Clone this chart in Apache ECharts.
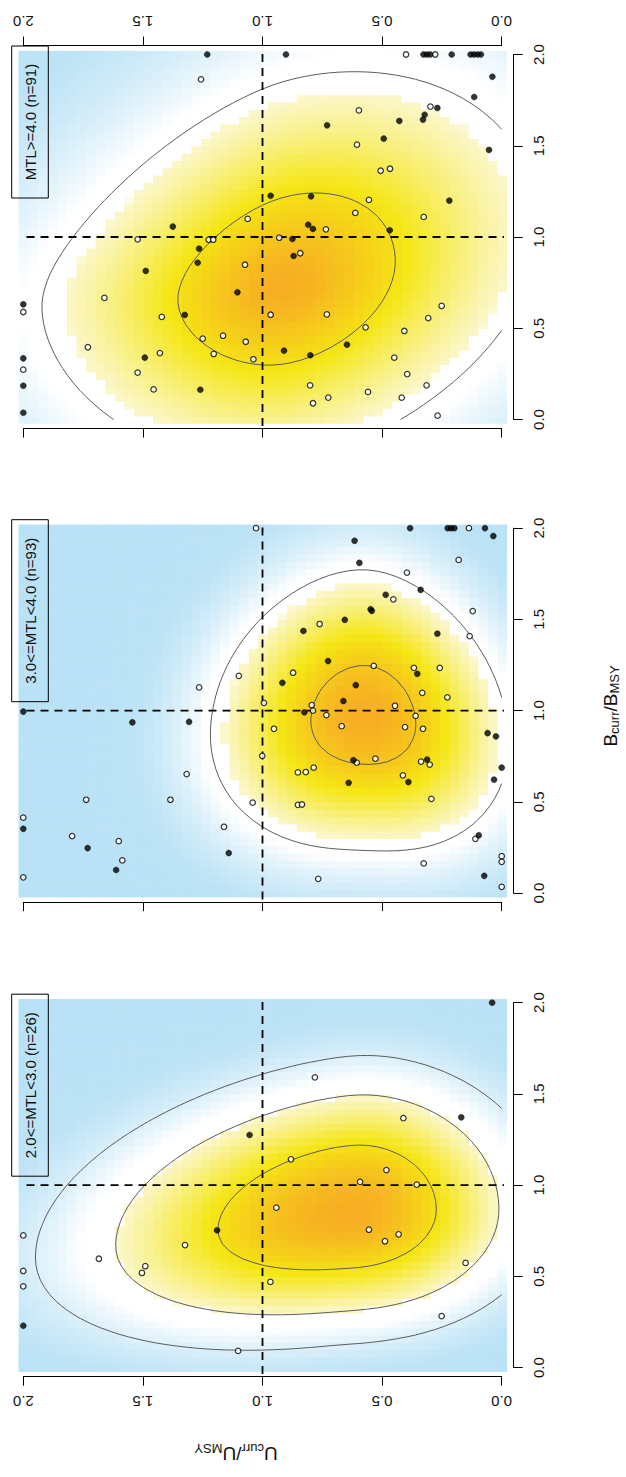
<!DOCTYPE html>
<html>
<head>
<meta charset="utf-8">
<title>U/Umsy vs B/Bmsy by MTL class</title>
<script src="https://cdn.jsdelivr.net/npm/echarts@6.0.0/dist/echarts.min.js"></script>
<style>
  html, body { margin: 0; padding: 0; background: #ffffff; }
  #chart { width: 626px; height: 1477px; }
</style>
</head>
<body>
<div id="chart"></div>
<script>
// ---------------------------------------------------------------
// Stock status points: U = Ucurr/Umsy, B = Bcurr/Bmsy (values above
// 2 are shown on the 2.0 edge). solid = 1 for filled markers.
// ---------------------------------------------------------------

// MTL >= 4.0
const mtlHighU = [1.231,1.257,1.062,1.375,1.522,1.225,1.206,1.265,1.271,1.073,1.488,1.105,1.661,2.0,2.0,1.325,1.421,1.165,1.250,1.070,1.730,1.204,1.429,1.492,2.0,1.038,2.0,1.522,2.0,1.455,1.260,2.0,
  0.902,0.400,0.327,0.313,0.299,0.278,0.209,0.130,0.116,0.101,0.087,
  0.039,0.115,0.298,0.269,0.322,0.329,0.597,0.428,0.730,0.493,0.605,0.053,0.506,0.467,0.966,0.797,0.555,0.219,0.612,0.326,0.809,0.789,0.735,0.468,0.930,0.875,0.842,0.870,0.251,0.966,0.731,0.307,0.569,0.407,0.647,0.910,0.800,0.449,0.395,0.801,0.314,0.559,0.725,0.418,0.789,0.268];
const mtlHighB = [2.0,1.864,1.099,1.057,0.987,0.985,0.985,0.936,0.859,0.848,0.814,0.697,0.666,0.631,0.589,0.573,0.562,0.459,0.443,0.426,0.396,0.359,0.364,0.339,0.335,0.330,0.273,0.257,0.185,0.165,0.163,0.037,
  2.0,2.0,2.0,2.0,2.0,2.0,2.0,2.0,2.0,2.0,2.0,
  1.878,1.767,1.714,1.707,1.670,1.643,1.694,1.636,1.612,1.539,1.506,1.477,1.363,1.374,1.226,1.223,1.203,1.199,1.132,1.110,1.067,1.044,1.042,1.037,0.996,0.989,0.911,0.896,0.622,0.574,0.576,0.556,0.505,0.485,0.410,0.377,0.352,0.339,0.249,0.187,0.187,0.151,0.120,0.120,0.089,0.021];
const mtlHighSolid = [1,0,0,1,0,0,0,1,1,0,1,1,0,1,0,1,0,0,0,0,0,0,0,1,1,0,0,0,1,0,1,1,
  1,0,1,1,1,0,1,1,1,1,1,
  1,1,0,1,1,1,0,1,1,1,0,1,0,0,1,1,0,1,0,0,1,1,0,1,0,1,0,1,0,0,0,0,0,0,1,1,1,0,0,0,0,0,0,0,0,0];

// 3.0 <= MTL < 4.0
const mtlMidU = [1.027,1.099,1.265,2.0,1.544,1.307,0.994,1.001,1.317,1.737,1.385,1.041,2.0,2.0,1.796,1.161,1.601,1.731,1.141,1.586,1.612,2.0,
  0.383,0.226,0.212,0.198,0.137,0.070,0.035,0.615,0.595,0.180,0.396,0.485,0.453,0.339,0.548,0.543,0.656,0.121,0.761,0.829,0.269,0.134,
  0.726,0.535,0.872,0.367,0.353,0.259,0.917,0.610,0.332,0.227,0.662,0.794,0.789,0.825,0.733,0.446,0.360,0.952,0.669,0.404,0.329,
  0.059,0.024,0.620,0.606,0.528,0.337,0.312,0.301,0.852,0.819,0.786,0.0,0.032,0.413,0.390,0.640,0.294,0.852,0.835,
  0.096,0.110,0.0,0.0,0.326,0.073,0.767,0.0];
const mtlMidB = [2.0,1.191,1.128,0.995,0.936,0.939,1.043,0.753,0.653,0.512,0.512,0.496,0.414,0.353,0.313,0.364,0.285,0.247,0.220,0.180,0.127,0.087,
  2.0,2.0,2.0,2.0,2.0,2.0,1.957,1.931,1.810,1.826,1.757,1.635,1.610,1.662,1.556,1.547,1.498,1.546,1.475,1.437,1.422,1.409,
  1.272,1.246,1.208,1.235,1.202,1.235,1.153,1.140,1.098,1.073,1.053,1.031,1.000,0.991,0.976,1.027,0.972,0.901,0.915,0.910,0.901,
  0.877,0.859,0.729,0.715,0.737,0.721,0.732,0.705,0.662,0.664,0.688,0.688,0.622,0.646,0.609,0.605,0.517,0.484,0.486,
  0.317,0.298,0.203,0.172,0.163,0.095,0.079,0.035];
const mtlMidSolid = [0,0,0,1,1,1,0,0,0,0,0,0,0,1,0,0,0,1,1,0,1,0,
  1,1,1,1,0,1,1,1,1,0,0,1,0,1,1,1,1,0,0,1,1,0,
  1,0,0,0,1,0,1,1,0,0,1,0,0,1,0,0,0,0,0,0,0,
  1,1,1,0,0,0,1,0,0,0,0,1,1,0,1,1,0,0,0,
  1,0,0,0,0,1,0,0];

// 2.0 <= MTL < 3.0
const mtlLowU = [0.781,0.411,0.169,1.054,0.881,0.482,0.592,0.355,0.942,1.190,0.555,0.431,0.488,1.324,2.0,1.684,1.490,1.504,2.0,2.0,0.967,0.151,0.251,2.0,1.102,0.040];
const mtlLowB = [1.591,1.367,1.372,1.275,1.142,1.083,1.018,1.003,0.877,0.753,0.756,0.731,0.693,0.672,0.725,0.597,0.556,0.519,0.530,0.446,0.470,0.574,0.283,0.230,0.092,2.0];
const mtlLowSolid = [0,0,1,1,0,0,0,0,0,1,0,0,0,0,0,0,0,0,0,0,0,0,0,1,0,1];

const panelTitles = ['MTL>=4.0 (n=91)', '3.0<=MTL<4.0 (n=93)', '2.0<=MTL<3.0 (n=26)'];
const refU = 1.0;  // Ucurr = Umsy
const refB = 1.0;  // Bcurr = Bmsy

// Joint status density per MTL class (top, middle, bottom panel):
// modal U and B, spread below / above the mode, slope of the B centre
// against U on either side of the modal U, fall-off towards high U with
// high B, and tail shape (1 = normal).
const densityModeU   = [0.93, 0.57, 0.62];
const densityModeB   = [0.72, 1.00, 0.87];
const densitySpreadU = [[0.58, 0.544], [0.37, 0.40], [0.41, 0.67]];
const densitySpreadB = [[0.528, 0.612], [0.45, 0.50], [0.365, 0.43]];
const densityTilt    = [[-0.30, 0.0], [0.30, -0.20], [0.0, -0.20]];
const densityCross   = [0.5, 0.0, 0.0];
const densityShape   = [0.76, 1.0, 1.0];
// contour levels, as a share of the panel's peak density
const contourLevels  = [[0.28, 0.70], [0.27, 0.85], [0.14, 1 / 3, 0.70]];

// ---------------------------------------------------------------
// Density on a 51 x 51 grid over [0, 2] x [0, 2]
// ---------------------------------------------------------------
const GRID_N = 51, GRID_LO = 0, GRID_HI = 2;
const gridVals = [];
for (let k = 0; k < GRID_N; k++) gridVals.push(GRID_LO + (GRID_HI - GRID_LO) * k / (GRID_N - 1));
const CELL = (GRID_HI - GRID_LO) / (GRID_N - 1);

// smooth positive part, so the surface has no creases at the mode
const softPos = (x, eps) => 0.5 * (x + Math.sqrt(x * x + eps * eps));

function densityGrid(k) {
  const mu = densityModeU[k], mb = densityModeB[k];
  const su = densitySpreadU[k], sb = densitySpreadB[k], tilt = densityTilt[k];
  const cross = densityCross[k], shape = densityShape[k];
  const z = [];
  let zmax = 0;
  for (let i = 0; i < GRID_N; i++) {
    const row = [];
    for (let j = 0; j < GRID_N; j++) {
      const du = gridVals[i] - mu;
      const a = du / (du < 0 ? su[0] : su[1]);
      const up = softPos(du, 0.15), dn = du - up;
      const centreB = mb + tilt[0] * dn + tilt[1] * up;
      const db = gridVals[j] - centreB;
      const b = db / (db < 0 ? sb[0] : sb[1]);
      const q = a * a + b * b + 2 * cross * softPos(a, 0.3) * softPos(b, 0.3);
      const v = Math.exp(-0.5 * Math.pow(q, shape));
      if (v > zmax) zmax = v;
      row.push(v);
    }
    z.push(row);
  }
  return z.map(row => row.map(v => v / zmax));
}

// ---------------------------------------------------------------
// Contour tracing (marching squares) on the density grid
// ---------------------------------------------------------------
function contourLines(z, level) {
  const pts = new Map(), adj = new Map();
  const edgePt = (key, i0, j0, i1, j1) => {
    if (!pts.has(key)) {
      const z0 = z[i0][j0], z1 = z[i1][j1], t = (level - z0) / (z1 - z0);
      pts.set(key, [gridVals[i0] + t * (gridVals[i1] - gridVals[i0]), gridVals[j0] + t * (gridVals[j1] - gridVals[j0])]);
    }
    return key;
  };
  const link = (a, b) => {
    if (!adj.has(a)) adj.set(a, []);
    if (!adj.has(b)) adj.set(b, []);
    adj.get(a).push(b); adj.get(b).push(a);
  };
  for (let i = 0; i < GRID_N - 1; i++) {
    for (let j = 0; j < GRID_N - 1; j++) {
      const a = z[i][j] >= level, b = z[i + 1][j] >= level, c = z[i + 1][j + 1] >= level, d = z[i][j + 1] >= level;
      const E = {};
      if (a !== b) E.bottom = edgePt('h' + i + '_' + j, i, j, i + 1, j);
      if (b !== c) E.right = edgePt('v' + (i + 1) + '_' + j, i + 1, j, i + 1, j + 1);
      if (d !== c) E.top = edgePt('h' + i + '_' + (j + 1), i, j + 1, i + 1, j + 1);
      if (a !== d) E.left = edgePt('v' + i + '_' + j, i, j, i, j + 1);
      const ks = Object.keys(E);
      if (ks.length === 2) link(E[ks[0]], E[ks[1]]);
      else if (ks.length === 4) {
        const m = (z[i][j] + z[i + 1][j] + z[i + 1][j + 1] + z[i][j + 1]) / 4 >= level;
        if (m === a) { link(E.bottom, E.right); link(E.top, E.left); }
        else { link(E.bottom, E.left); link(E.right, E.top); }
      }
    }
  }
  const seen = new Set(), lines = [];
  const walk = (start) => {
    const line = [pts.get(start)];
    seen.add(start);
    let cur = start;
    for (;;) {
      const nxt = adj.get(cur).filter(k => !seen.has(k));
      if (!nxt.length) break;
      cur = nxt[0]; seen.add(cur); line.push(pts.get(cur));
    }
    if (line.length > 2 && adj.get(cur).indexOf(start) >= 0) line.push(pts.get(start));
    return line;
  };
  for (const [k, v] of adj) if (v.length === 1 && !seen.has(k)) lines.push(walk(k));
  for (const k of adj.keys()) if (!seen.has(k)) lines.push(walk(k));
  return lines;
}

// ---------------------------------------------------------------
// Colour ramp for density relative to the panel maximum
// ---------------------------------------------------------------
const rampStops = [
  [0.0, [186, 226, 246]],
  [0.05, [188, 227, 246]],
  [0.24, [255, 255, 255]],
  [1 / 3, [255, 255, 255]],
  [1 / 3 + 0.001, [251, 247, 203]],
  [2 / 3, [245, 230, 20]],
  [1.0, [247, 174, 34]]
];
function heatColor(r) {
  r = Math.max(0, Math.min(1, r));
  for (let k = 1; k < rampStops.length; k++) {
    if (r <= rampStops[k][0]) {
      const [r0, c0] = rampStops[k - 1], [r1, c1] = rampStops[k];
      const t = (r - r0) / (r1 - r0);
      const c = c0.map((v, q) => Math.round(v + t * (c1[q] - v)));
      return 'rgb(' + c.join(',') + ')';
    }
  }
  return 'rgb(' + rampStops[rampStops.length - 1][1].join(',') + ')';
}

// ---------------------------------------------------------------
// Layout (portrait: U runs right-to-left, B runs upward)
// ---------------------------------------------------------------
const FONT = '"Liberation Sans", Arial, Helvetica, sans-serif';
const GRID_LEFT = 23.3, GRID_W = 478.4, GRID_H = 365;
const panels = [
  { title: panelTitles[0], U: mtlHighU, B: mtlHighB, S: mtlHighSolid, top: 54.5,  boxH: 152 },
  { title: panelTitles[1], U: mtlMidU,  B: mtlMidB,  S: mtlMidSolid,  top: 528.2, boxH: 182 },
  { title: panelTitles[2], U: mtlLowU,  B: mtlLowB,  S: mtlLowSolid,  top: 1002.7, boxH: 182 }
];

const fmt = v => v.toFixed(1);
function uAxis(gridIndex, position, showLabel) {
  return {
    type: 'value', gridIndex, position, offset: 9, min: 0, max: 2, interval: 0.5, inverse: true,
    axisLine: { show: true, onZero: false, lineStyle: { color: '#000', width: 1 } },
    axisTick: { show: true, inside: false, length: 9, lineStyle: { color: '#000', width: 1 } },
    axisLabel: { show: showLabel, rotate: 180, fontSize: 15, fontFamily: FONT, color: '#111', margin: 17, formatter: fmt },
    splitLine: { show: false }
  };
}
function bAxis(gridIndex) {
  return {
    type: 'value', gridIndex, position: 'right', offset: 12, min: 0, max: 2, interval: 0.5,
    axisLine: { show: true, onZero: false, lineStyle: { color: '#000', width: 1 } },
    axisTick: { show: true, inside: false, length: 9, lineStyle: { color: '#000', width: 1 } },
    axisLabel: { show: true, rotate: 90, fontSize: 15, fontFamily: FONT, color: '#111', margin: 17, formatter: fmt },
    splitLine: { show: false }
  };
}

const grids = [], xAxes = [], yAxes = [], series = [], graphics = [];

panels.forEach((p, i) => {
  grids.push({ left: GRID_LEFT, top: p.top, width: GRID_W, height: GRID_H, containLabel: false, outerBoundsMode: 'none' });
  xAxes.push(uAxis(i, 'bottom', i === 2));
  yAxes.push(bAxis(i));

  // density surface
  const z = densityGrid(i);
  const cells = [];
  for (let a = 0; a < GRID_N; a++) for (let b = 0; b < GRID_N; b++) cells.push([gridVals[a], gridVals[b], z[a][b]]);

  series.push({
    type: 'custom', xAxisIndex: i, yAxisIndex: i, silent: true, z: 1, clip: false,
    encode: { x: 0, y: 1 }, data: cells,
    renderItem(params, api) {
      const u = api.value(0), b = api.value(1), r = api.value(2);
      const p0 = api.coord([u + CELL / 2, b + CELL / 2]);
      const p1 = api.coord([u - CELL / 2, b - CELL / 2]);
      return {
        type: 'rect',
        shape: { x: Math.min(p0[0], p1[0]), y: Math.min(p0[1], p1[1]), width: Math.abs(p1[0] - p0[0]) + 0.6, height: Math.abs(p1[1] - p0[1]) + 0.6 },
        style: { fill: heatColor(r) }
      };
    }
  });

  // density contours
  contourLevels[i].forEach(lv => {
    contourLines(z, lv).forEach(line => {
      series.push({
        type: 'line', xAxisIndex: i, yAxisIndex: i, data: line, symbol: 'none', silent: true, z: 3, clip: false,
        lineStyle: { color: '#5c5c5c', width: 1 }
      });
    });
  });

  // reference lines at Umsy and Bmsy
  series.push({
    type: 'line', xAxisIndex: i, yAxisIndex: i, data: [[refU, -0.035], [refU, 2.035]], symbol: 'none', silent: true, z: 4, clip: false,
    lineStyle: { color: '#000', width: 1.8, type: [8, 6] }
  });
  series.push({
    type: 'line', xAxisIndex: i, yAxisIndex: i, data: [[2.045, refB], [-0.09, refB]], symbol: 'none', silent: true, z: 4, clip: false,
    lineStyle: { color: '#000', width: 1.8, type: [8, 6] }
  });

  // stocks
  const open = [], solid = [];
  p.U.forEach((u, k) => (p.S[k] ? solid : open).push([u, p.B[k]]));
  series.push({
    type: 'scatter', xAxisIndex: i, yAxisIndex: i, data: open, symbol: 'circle', symbolSize: 5.5, silent: true, z: 5,
    itemStyle: { color: '#fff', borderColor: '#000', borderWidth: 1.2 }
  });
  series.push({
    type: 'scatter', xAxisIndex: i, yAxisIndex: i, data: solid, symbol: 'circle', symbolSize: 6, silent: true, z: 5,
    itemStyle: { color: '#000', borderColor: '#000', borderWidth: 0.5 }
  });

  // class label box
  const boxTop = p.top - 8.5;
  graphics.push({
    type: 'rect', z: 10, silent: true,
    shape: { x: 11.7, y: boxTop, width: 36.6, height: p.boxH },
    style: { fill: 'none', stroke: '#000', lineWidth: 1 }
  });
  graphics.push({
    type: 'text', z: 10, silent: true, x: 30.5, y: boxTop + p.boxH / 2, rotation: Math.PI / 2,
    style: { text: p.title, fontSize: 15, fontFamily: FONT, fill: '#111', align: 'center', verticalAlign: 'middle' }
  });
});

// labelled U axis along the top edge of the upper panel
xAxes.push(uAxis(0, 'top', true));

// axis titles
const titleRich = {
  m: { fontSize: 19, fontFamily: FONT, fill: '#111', lineHeight: 24 },
  s: { fontSize: 13, fontFamily: FONT, fill: '#111', padding: [9, 0, 0, 0] }
};
graphics.push({
  type: 'text', z: 10, silent: true, x: 610, y: 706, rotation: Math.PI / 2,
  style: { text: '{m|B}{s|curr}{m|/B}{s|MSY}', fill: '#111', align: 'center', verticalAlign: 'middle', rich: titleRich }
});
graphics.push({
  type: 'text', z: 10, silent: true, x: 236, y: 1453, rotation: Math.PI,
  style: { text: '{m|U}{s|curr}{m|/U}{s|MSY}', fill: '#111', align: 'center', verticalAlign: 'middle', rich: titleRich }
});

const chart = echarts.init(document.getElementById('chart'), null, { renderer: 'svg' });
chart.setOption({
  animation: false,
  backgroundColor: '#fff',
  grid: grids,
  xAxis: xAxes,
  yAxis: yAxes,
  series,
  graphic: { elements: graphics }
});
</script>
</body>
</html>
